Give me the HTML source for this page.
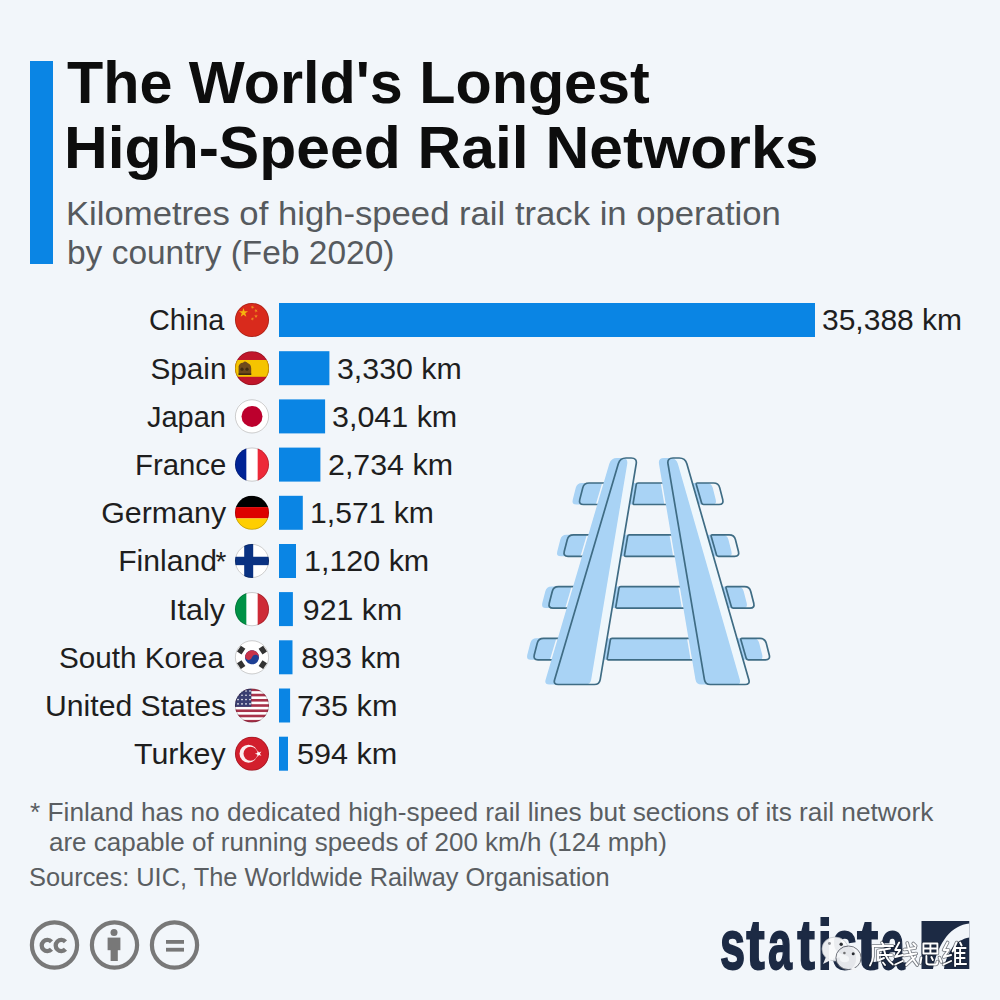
<!DOCTYPE html>
<html><head><meta charset="utf-8"><style>
html,body{margin:0;padding:0;background:#f2f6fa;}
svg{display:block}
text{font-family:"Liberation Sans",sans-serif;}
.t{font-weight:bold;font-size:60px;fill:#0d0d0d;}
.s{font-size:33px;fill:#565a5e;}
.l{font-size:30px;fill:#1e1e1e;}
.ast{font-size:28px;fill:#1e1e1e;}
.f{font-size:25px;fill:#5a5e62;}
.cc{font-weight:bold;font-size:21px;fill:#777;letter-spacing:-1px}
.st{font-weight:bold;font-size:70px;fill:#1c2a44;stroke:#1c2a44;stroke-width:1.8px}

</style></head><body>
<svg width="1000" height="1000" viewBox="0 0 1000 1000">
<rect x="30" y="61" width="23" height="203" fill="#0a85e4"/>
<text x="67.0" y="103.0" class="t" textLength="582.82" lengthAdjust="spacingAndGlyphs">The World's Longest</text>
<text x="64.0" y="168.0" class="t" textLength="754.38" lengthAdjust="spacingAndGlyphs">High-Speed Rail Networks</text>
<text x="66.0" y="225.0" class="s" textLength="714.79" lengthAdjust="spacingAndGlyphs">Kilometres of high-speed rail track in operation</text>
<text x="67.0" y="264.0" class="s" textLength="327.4" lengthAdjust="spacingAndGlyphs">by country (Feb 2020)</text>
<rect x="279" y="303.0" width="536.0" height="34" fill="#0a85e4"/>
<text x="149.0" y="330.4" class="l" textLength="75.34" lengthAdjust="spacingAndGlyphs">China</text>
<clipPath id="c_cn"><circle cx="252" cy="320.0" r="17"/></clipPath><g clip-path="url(#c_cn)"><rect x="235" y="303.0" width="34" height="34" fill="#d92a1c"/><path d="M243.50,308.00 L244.58,311.32 L248.07,311.32 L245.24,313.37 L246.32,316.68 L243.50,314.63 L240.68,316.68 L241.76,313.37 L238.93,311.32 L242.42,311.32Z" fill="#f6b40e"/><path d="M253.18,305.32 L253.13,306.77 L254.50,307.27 L253.10,307.67 L253.05,309.12 L252.24,307.92 L250.84,308.32 L251.74,307.17 L250.92,305.97 L252.29,306.47Z" fill="#f0a020" opacity="0.85"/><path d="M257.41,309.39 L256.75,310.68 L257.78,311.71 L256.35,311.48 L255.69,312.78 L255.46,311.34 L254.02,311.11 L255.32,310.45 L255.09,309.02 L256.12,310.05Z" fill="#f0a020" opacity="0.85"/><path d="M256.00,314.20 L256.45,315.58 L257.90,315.58 L256.73,316.44 L257.18,317.82 L256.00,316.96 L254.82,317.82 L255.27,316.44 L254.10,315.58 L255.55,315.58Z" fill="#f0a020" opacity="0.85"/><path d="M253.18,317.02 L253.13,318.47 L254.50,318.97 L253.10,319.37 L253.05,320.82 L252.24,319.62 L250.84,320.02 L251.74,318.87 L250.92,317.67 L252.29,318.17Z" fill="#f0a020" opacity="0.85"/></g><circle cx="252" cy="320.0" r="16.6" fill="none" stroke="rgba(0,0,0,0.22)" stroke-width="0.9"/>
<text x="822.0" y="330.4" class="l" textLength="140.09" lengthAdjust="spacingAndGlyphs">35,388 km</text>
<rect x="279" y="351.2" width="50.4" height="34" fill="#0a85e4"/>
<text x="150.4" y="378.6" class="l" textLength="76.12" lengthAdjust="spacingAndGlyphs">Spain</text>
<clipPath id="c_es"><circle cx="252" cy="368.19" r="17"/></clipPath><g clip-path="url(#c_es)"><rect x="235" y="351.19" width="34" height="34" fill="#c0162a"/><rect x="235" y="359.99" width="34" height="16.8" fill="#f5c400"/><path d="M238.6,374.79 L238.6,366.19 Q240,362.19 243,362.69 Q245,360.19 248,363.19 Q251,364.19 251.2,368.19 L251.2,374.79 Z" fill="#6e4a1c"/><rect x="238.6" y="373.39" width="12.6" height="1.6" fill="#3e2a10"/><circle cx="242" cy="369.19" r="1.6" fill="#3e2a10"/><circle cx="247" cy="369.19" r="1.6" fill="#3e2a10"/></g><circle cx="252" cy="368.19" r="16.6" fill="none" stroke="rgba(0,0,0,0.22)" stroke-width="0.9"/>
<text x="337.0" y="378.6" class="l" textLength="124.7" lengthAdjust="spacingAndGlyphs">3,330 km</text>
<rect x="279" y="399.4" width="46.1" height="34" fill="#0a85e4"/>
<text x="147.0" y="426.8" class="l" textLength="78.86" lengthAdjust="spacingAndGlyphs">Japan</text>
<clipPath id="c_jp"><circle cx="252" cy="416.38" r="17"/></clipPath><g clip-path="url(#c_jp)"><rect x="235" y="399.38" width="34" height="34" fill="#ffffff"/><circle cx="252" cy="416.38" r="10.5" fill="#bc002d"/></g><circle cx="252" cy="416.38" r="16.6" fill="none" stroke="rgba(0,0,0,0.22)" stroke-width="0.9"/>
<text x="332.0" y="426.8" class="l" textLength="125.21" lengthAdjust="spacingAndGlyphs">3,041 km</text>
<rect x="279" y="447.6" width="41.4" height="34" fill="#0a85e4"/>
<text x="135.0" y="475.0" class="l" textLength="91.3" lengthAdjust="spacingAndGlyphs">France</text>
<clipPath id="c_fr"><circle cx="252" cy="464.57" r="17"/></clipPath><g clip-path="url(#c_fr)"><rect x="235" y="447.57" width="34" height="34" fill="#ffffff"/><rect x="235" y="447.57" width="11.333333333333334" height="34" fill="#002395"/><rect x="257.6666666666667" y="447.57" width="11.333333333333334" height="34" fill="#ed2939"/></g><circle cx="252" cy="464.57" r="16.6" fill="none" stroke="rgba(0,0,0,0.22)" stroke-width="0.9"/>
<text x="328.0" y="475.0" class="l" textLength="124.95" lengthAdjust="spacingAndGlyphs">2,734 km</text>
<rect x="279" y="495.8" width="23.8" height="34" fill="#0a85e4"/>
<text x="101.2" y="523.2" class="l" textLength="124.99" lengthAdjust="spacingAndGlyphs">Germany</text>
<clipPath id="c_de"><circle cx="252" cy="512.76" r="17"/></clipPath><g clip-path="url(#c_de)"><rect x="235" y="495.76" width="34" height="11.333333333333334" fill="#000000"/><rect x="235" y="507.0933333333333" width="34" height="11.333333333333334" fill="#dd0000"/><rect x="235" y="518.4266666666666" width="34" height="11.333333333333334" fill="#ffce00"/></g><circle cx="252" cy="512.76" r="16.6" fill="none" stroke="rgba(0,0,0,0.22)" stroke-width="0.9"/>
<text x="310.0" y="523.2" class="l" textLength="123.93" lengthAdjust="spacingAndGlyphs">1,571 km</text>
<rect x="279" y="544.0" width="17.0" height="34" fill="#0a85e4"/>
<text x="118.2" y="571.4" class="l" textLength="98.93" lengthAdjust="spacingAndGlyphs">Finland</text>
<text x="215.6" y="571.4" class="ast">*</text>
<clipPath id="c_fi"><circle cx="252" cy="560.95" r="17"/></clipPath><g clip-path="url(#c_fi)"><rect x="235" y="543.95" width="34" height="34" fill="#ffffff"/><rect x="235" y="556.75" width="34" height="8.4" fill="#0a3282"/><rect x="244.2" y="543.95" width="9" height="34" fill="#0a3282"/></g><circle cx="252" cy="560.95" r="16.6" fill="none" stroke="rgba(0,0,0,0.22)" stroke-width="0.9"/>
<text x="304.0" y="571.4" class="l" textLength="125.22" lengthAdjust="spacingAndGlyphs">1,120 km</text>
<rect x="279" y="592.1" width="13.9" height="34" fill="#0a85e4"/>
<text x="169.0" y="619.5" class="l" textLength="56.09" lengthAdjust="spacingAndGlyphs">Italy</text>
<clipPath id="c_it"><circle cx="252" cy="609.14" r="17"/></clipPath><g clip-path="url(#c_it)"><rect x="235" y="592.14" width="34" height="34" fill="#ffffff"/><rect x="235" y="592.14" width="11.333333333333334" height="34" fill="#009246"/><rect x="257.6666666666667" y="592.14" width="11.333333333333334" height="34" fill="#ce2b37"/></g><circle cx="252" cy="609.14" r="16.6" fill="none" stroke="rgba(0,0,0,0.22)" stroke-width="0.9"/>
<text x="302.8" y="619.5" class="l" textLength="99.33" lengthAdjust="spacingAndGlyphs">921 km</text>
<rect x="279" y="640.3" width="13.5" height="34" fill="#0a85e4"/>
<text x="59.0" y="667.7" class="l" textLength="164.99" lengthAdjust="spacingAndGlyphs">South Korea</text>
<clipPath id="c_kr"><circle cx="252" cy="657.3299999999999" r="17"/></clipPath><g clip-path="url(#c_kr)"><rect x="235" y="640.3299999999999" width="34" height="34" fill="#ffffff"/><g transform="rotate(15 252 657.33)"><circle cx="252" cy="657.33" r="7" fill="#1d3f94"/><path d="M245,657.33 A7,7 0 0 1 259,657.33 A3.5,3.5 0 0 0 252,657.33 A3.5,3.5 0 0 1 245,657.33Z" fill="#c8334a"/></g><g transform="rotate(-146.3 252 657.33)"><rect x="262.3" y="653.83" width="5.4" height="7" fill="#333333"/></g><g transform="rotate(-33.7 252 657.33)"><rect x="262.3" y="653.83" width="5.4" height="7" fill="#333333"/></g><g transform="rotate(33.7 252 657.33)"><rect x="262.3" y="653.83" width="5.4" height="7" fill="#333333"/></g><g transform="rotate(146.3 252 657.33)"><rect x="262.3" y="653.83" width="5.4" height="7" fill="#333333"/></g></g><circle cx="252" cy="657.3299999999999" r="16.6" fill="none" stroke="rgba(0,0,0,0.22)" stroke-width="0.9"/>
<text x="301.2" y="667.7" class="l" textLength="99.74" lengthAdjust="spacingAndGlyphs">893 km</text>
<rect x="279" y="688.5" width="11.1" height="34" fill="#0a85e4"/>
<text x="45.0" y="715.9" class="l" textLength="181.13" lengthAdjust="spacingAndGlyphs">United States</text>
<clipPath id="c_us"><circle cx="252" cy="705.52" r="17"/></clipPath><g clip-path="url(#c_us)"><rect x="235" y="688.52" width="34" height="34" fill="#ffffff"/><rect x="235" y="688.52" width="34" height="2.62" fill="#a8324a"/><rect x="235" y="693.75" width="34" height="2.62" fill="#a8324a"/><rect x="235" y="698.98" width="34" height="2.62" fill="#a8324a"/><rect x="235" y="704.21" width="34" height="2.62" fill="#a8324a"/><rect x="235" y="709.44" width="34" height="2.62" fill="#a8324a"/><rect x="235" y="714.67" width="34" height="2.62" fill="#a8324a"/><rect x="235" y="719.90" width="34" height="2.62" fill="#a8324a"/><rect x="235" y="688.52" width="16.32" height="18.31" fill="#3a3f72"/><circle cx="238.0" cy="691.0" r="0.8" fill="#fff"/><circle cx="242.0" cy="691.0" r="0.8" fill="#fff"/><circle cx="246.0" cy="691.0" r="0.8" fill="#fff"/><circle cx="250.0" cy="691.0" r="0.8" fill="#fff"/><circle cx="238.0" cy="695.3" r="0.8" fill="#fff"/><circle cx="242.0" cy="695.3" r="0.8" fill="#fff"/><circle cx="246.0" cy="695.3" r="0.8" fill="#fff"/><circle cx="250.0" cy="695.3" r="0.8" fill="#fff"/><circle cx="238.0" cy="699.6" r="0.8" fill="#fff"/><circle cx="242.0" cy="699.6" r="0.8" fill="#fff"/><circle cx="246.0" cy="699.6" r="0.8" fill="#fff"/><circle cx="250.0" cy="699.6" r="0.8" fill="#fff"/><circle cx="238.0" cy="703.9" r="0.8" fill="#fff"/><circle cx="242.0" cy="703.9" r="0.8" fill="#fff"/><circle cx="246.0" cy="703.9" r="0.8" fill="#fff"/><circle cx="250.0" cy="703.9" r="0.8" fill="#fff"/></g><circle cx="252" cy="705.52" r="16.6" fill="none" stroke="rgba(0,0,0,0.22)" stroke-width="0.9"/>
<text x="297.0" y="715.9" class="l" textLength="100.45" lengthAdjust="spacingAndGlyphs">735 km</text>
<rect x="279" y="736.7" width="9.0" height="34" fill="#0a85e4"/>
<text x="134.0" y="764.1" class="l" textLength="91.61" lengthAdjust="spacingAndGlyphs">Turkey</text>
<clipPath id="c_tr"><circle cx="252" cy="753.71" r="17"/></clipPath><g clip-path="url(#c_tr)"><rect x="235" y="736.71" width="34" height="34" fill="#d21f2d"/><circle cx="248.5" cy="753.71" r="9" fill="#fbeff0"/><circle cx="250.5" cy="753.71" r="7" fill="#d21f2d"/><path d="M257.39,750.29 L258.92,752.40 L261.41,751.59 L259.88,753.71 L261.41,755.83 L258.92,755.02 L257.39,757.13 L257.39,754.52 L254.90,753.71 L257.39,752.90Z" fill="#fff"/></g><circle cx="252" cy="753.71" r="16.6" fill="none" stroke="rgba(0,0,0,0.22)" stroke-width="0.9"/>
<text x="297.0" y="764.1" class="l" textLength="100.24" lengthAdjust="spacingAndGlyphs">594 km</text>
<text x="30.0" y="820.5" class="f" textLength="903.28" lengthAdjust="spacingAndGlyphs">* Finland has no dedicated high-speed rail lines but sections of its rail network</text>
<text x="49.0" y="851.0" class="f" textLength="617.92" lengthAdjust="spacingAndGlyphs">are capable of running speeds of 200 km/h (124 mph)</text>
<text x="29.0" y="885.5" class="f" textLength="580.6" lengthAdjust="spacingAndGlyphs">Sources: UIC, The Worldwide Railway Organisation</text>
<circle cx="54.5" cy="945" r="22.6" fill="none" stroke="#787878" stroke-width="4.2"/>
<path d="M51.46,941.75 A5.6,5.6 0 1 0 51.46,949.25" fill="none" stroke="#787878" stroke-width="4.3"/>
<path d="M65.46,941.75 A5.6,5.6 0 1 0 65.46,949.25" fill="none" stroke="#787878" stroke-width="4.3"/>
<circle cx="114.5" cy="945" r="22.6" fill="none" stroke="#787878" stroke-width="4.2"/>
<circle cx="114" cy="932.5" r="3.5" fill="#787878"/><rect x="107.6" y="937.6" width="12.8" height="12.6" fill="#787878"/><rect x="110.6" y="949" width="7.2" height="12" fill="#787878"/>
<circle cx="174.5" cy="945" r="22.6" fill="none" stroke="#787878" stroke-width="4.2"/>
<rect x="166" y="940" width="18" height="3.8" fill="#787878"/><rect x="166" y="947.8" width="18" height="3.8" fill="#787878"/>
<text x="720" y="969" class="st" textLength="25.15" lengthAdjust="spacingAndGlyphs">s</text>
<text x="746.2" y="969" class="st" textLength="18.48" lengthAdjust="spacingAndGlyphs">t</text>
<text x="768" y="969" class="st" textLength="23.96" lengthAdjust="spacingAndGlyphs">a</text>
<text x="797.2" y="969" class="st" textLength="17.67" lengthAdjust="spacingAndGlyphs">t</text>
<text x="817.4" y="969" class="st" textLength="14.56" lengthAdjust="spacingAndGlyphs">i</text>
<text x="832" y="969" class="st" textLength="25.38" lengthAdjust="spacingAndGlyphs">s</text>
<text x="857" y="969" class="st" textLength="21.29" lengthAdjust="spacingAndGlyphs">t</text>
<text x="880.2" y="969" class="st" textLength="24.58" lengthAdjust="spacingAndGlyphs">a</text>
<rect x="921.5" y="921" width="47.8" height="48" fill="#1c2a44"/>
<path d="M969.3,923.6 C952,925 938,942 933,969 L944,969 C947,952 955,940 969.3,937.5 Z" fill="#f2f6fa"/>
<g opacity="0.93">
<ellipse cx="835" cy="949" rx="13" ry="12" fill="#fafbfc" stroke="#b8bcc2" stroke-width="0.7"/>
<path d="M826,957 L823,964 L831,960 Z" fill="#fafbfc"/>
<ellipse cx="848.5" cy="957.8" rx="12.6" ry="11.8" fill="#f4f5f7" stroke="#5a5e66" stroke-width="0.9"/>
<path d="M854,967 L858,972 L850,969 Z" fill="#f4f5f7"/>
<circle cx="829.5" cy="943.5" r="1.4" fill="#8a8d92"/><circle cx="841.2" cy="944.2" r="1.7" fill="#2a2d31"/>
<circle cx="844.4" cy="953" r="1.3" fill="#777"/><circle cx="853.2" cy="953.8" r="1.5" fill="#2a2d31"/>
</g>
<g transform="translate(870.0,942.5)"><path d="M12,0 L13.5,2.5 M2.5,3.5 L23,3.5 M3,3.5 L3,14 Q2.5,19 0,23 M8,8 L20,6 M8,8 L8,18 M8,12.5 L22,12.5 M8,18 L14,15.5 M14,7.5 Q16,17 23,22 M13,20 L15,22.5" fill="none" stroke="rgba(20,25,35,0.55)" stroke-width="3.6" stroke-linecap="round" stroke-linejoin="round"/><path d="M12,0 L13.5,2.5 M2.5,3.5 L23,3.5 M3,3.5 L3,14 Q2.5,19 0,23 M8,8 L20,6 M8,8 L8,18 M8,12.5 L22,12.5 M8,18 L14,15.5 M14,7.5 Q16,17 23,22 M13,20 L15,22.5" fill="none" stroke="#ffffff" stroke-width="1.9" stroke-linecap="round" stroke-linejoin="round"/></g>
<g transform="translate(894.2,942.5)"><path d="M5,0 L1,7.5 L6,7.5 L1,14.5 L8.5,12.5 M1,22 L8.5,18.5 M10,7 L21,5.5 M10,13 L22,11 M13,0.5 Q16,14 23,22.5 M21,14 L12,22.5 M19,1 L21.5,3.5" fill="none" stroke="rgba(20,25,35,0.55)" stroke-width="3.6" stroke-linecap="round" stroke-linejoin="round"/><path d="M5,0 L1,7.5 L6,7.5 L1,14.5 L8.5,12.5 M1,22 L8.5,18.5 M10,7 L21,5.5 M10,13 L22,11 M13,0.5 Q16,14 23,22.5 M21,14 L12,22.5 M19,1 L21.5,3.5" fill="none" stroke="#ffffff" stroke-width="1.9" stroke-linecap="round" stroke-linejoin="round"/></g>
<g transform="translate(918.4,942.5)"><path d="M5,1 L19,1 L19,11 L5,11 Z M12,1 L12,11 M5,6 L19,6 M3,15 L2,20.5 M8,13.5 L8,20 Q8,22 11,22 L17,22 Q19,22 19,19 M13,14.5 L14.5,17.5 M21,15 L23,19.5" fill="none" stroke="rgba(20,25,35,0.55)" stroke-width="3.6" stroke-linecap="round" stroke-linejoin="round"/><path d="M5,1 L19,1 L19,11 L5,11 Z M12,1 L12,11 M5,6 L19,6 M3,15 L2,20.5 M8,13.5 L8,20 Q8,22 11,22 L17,22 Q19,22 19,19 M13,14.5 L14.5,17.5 M21,15 L23,19.5" fill="none" stroke="#ffffff" stroke-width="1.9" stroke-linecap="round" stroke-linejoin="round"/></g>
<g transform="translate(942.6,942.5)"><path d="M5,0 L1,7.5 L6,7.5 L1,14.5 L8.5,12.5 M1,22 L8.5,18.5 M14,0 L10,9 M12.5,6 L12.5,23.5 M17.5,0 L19,3 M12.5,5.5 L23,5.5 M14,10.5 L22,10.5 M14,15.5 L22,15.5 M12.5,21.5 L23.5,21.5 M17.5,5.5 L17.5,21.5" fill="none" stroke="rgba(20,25,35,0.55)" stroke-width="3.6" stroke-linecap="round" stroke-linejoin="round"/><path d="M5,0 L1,7.5 L6,7.5 L1,14.5 L8.5,12.5 M1,22 L8.5,18.5 M14,0 L10,9 M12.5,6 L12.5,23.5 M17.5,0 L19,3 M12.5,5.5 L23,5.5 M14,10.5 L22,10.5 M14,15.5 L22,15.5 M12.5,21.5 L23.5,21.5 M17.5,5.5 L17.5,21.5" fill="none" stroke="#ffffff" stroke-width="1.9" stroke-linecap="round" stroke-linejoin="round"/></g>
<g id="rail">
<filter id="soft" x="-10%" y="-10%" width="120%" height="120%"><feGaussianBlur stdDeviation="0.6"/></filter>
<path d="M582.76,487.84 Q584.00,483.00 589.00,483.00 L607.62,483.00 Q609.12,483.00 608.70,484.44 L603.21,503.06 Q602.78,504.50 601.28,504.50 L583.50,504.50 Q578.50,504.50 579.74,499.66 Z" fill="#a9d3f5" transform="translate(-7,0)" filter="url(#soft)"/>
<path d="M636.28,484.48 Q636.53,483.00 638.03,483.00 L666.23,483.00 Q667.73,483.00 667.97,484.48 L671.11,503.02 Q671.36,504.50 669.86,504.50 L634.43,504.50 Q632.93,504.50 633.18,503.02 Z" fill="#a9d3f5" transform="translate(-7,0)" filter="url(#soft)"/>
<path d="M696.29,484.44 Q695.88,483.00 697.38,483.00 L713.50,483.00 Q718.50,483.00 719.74,487.84 L722.76,499.66 Q724.00,504.50 719.00,504.50 L703.55,504.50 Q702.05,504.50 701.63,503.06 Z" fill="#a9d3f5" transform="translate(-7,0)" filter="url(#soft)"/>
<path d="M567.26,539.64 Q568.50,534.80 573.50,534.80 L592.34,534.80 Q593.84,534.80 593.42,536.24 L587.93,554.86 Q587.50,556.30 586.00,556.30 L568.00,556.30 Q563.00,556.30 564.24,551.46 Z" fill="#a9d3f5" transform="translate(-7,0)" filter="url(#soft)"/>
<path d="M627.63,536.28 Q627.87,534.80 629.37,534.80 L674.98,534.80 Q676.48,534.80 676.73,536.28 L679.86,554.82 Q680.11,556.30 678.61,556.30 L625.78,556.30 Q624.28,556.30 624.53,554.82 Z" fill="#a9d3f5" transform="translate(-7,0)" filter="url(#soft)"/>
<path d="M711.16,536.24 Q710.74,534.80 712.24,534.80 L729.20,534.80 Q734.20,534.80 735.44,539.64 L738.46,551.46 Q739.70,556.30 734.70,556.30 L718.41,556.30 Q716.91,556.30 716.50,554.86 Z" fill="#a9d3f5" transform="translate(-7,0)" filter="url(#soft)"/>
<path d="M552.26,591.44 Q553.50,586.60 558.50,586.60 L577.06,586.60 Q578.56,586.60 578.14,588.04 L572.64,606.66 Q572.22,608.10 570.72,608.10 L553.00,608.10 Q548.00,608.10 549.24,603.26 Z" fill="#a9d3f5" transform="translate(-7,0)" filter="url(#soft)"/>
<path d="M618.98,588.08 Q619.22,586.60 620.72,586.60 L683.73,586.60 Q685.23,586.60 685.48,588.08 L688.62,606.62 Q688.87,608.10 687.37,608.10 L617.13,608.10 Q615.63,608.10 615.88,606.62 Z" fill="#a9d3f5" transform="translate(-7,0)" filter="url(#soft)"/>
<path d="M726.02,588.04 Q725.61,586.60 727.11,586.60 L744.50,586.60 Q749.50,586.60 750.74,591.44 L753.76,603.26 Q755.00,608.10 750.00,608.10 L733.28,608.10 Q731.78,608.10 731.36,606.66 Z" fill="#a9d3f5" transform="translate(-7,0)" filter="url(#soft)"/>
<path d="M537.26,643.14 Q538.50,638.30 543.50,638.30 L561.81,638.30 Q563.31,638.30 562.89,639.74 L557.39,658.36 Q556.97,659.80 555.47,659.80 L538.00,659.80 Q533.00,659.80 534.24,654.96 Z" fill="#a9d3f5" transform="translate(-7,0)" filter="url(#soft)"/>
<path d="M610.34,639.78 Q610.59,638.30 612.09,638.30 L692.47,638.30 Q693.97,638.30 694.22,639.78 L697.35,658.32 Q697.60,659.80 696.10,659.80 L608.50,659.80 Q607.00,659.80 607.25,658.32 Z" fill="#a9d3f5" transform="translate(-7,0)" filter="url(#soft)"/>
<path d="M740.86,639.74 Q740.45,638.30 741.95,638.30 L760.00,638.30 Q765.00,638.30 766.24,643.14 L769.26,654.96 Q770.50,659.80 765.50,659.80 L748.12,659.80 Q746.62,659.80 746.20,658.36 Z" fill="#a9d3f5" transform="translate(-7,0)" filter="url(#soft)"/>
<path d="M582.76,487.84 Q584.00,483.00 589.00,483.00 L607.62,483.00 Q609.12,483.00 608.70,484.44 L603.21,503.06 Q602.78,504.50 601.28,504.50 L583.50,504.50 Q578.50,504.50 579.74,499.66 Z" fill="none" stroke="#3f6c84" stroke-width="1.7"/>
<path d="M636.28,484.48 Q636.53,483.00 638.03,483.00 L666.23,483.00 Q667.73,483.00 667.97,484.48 L671.11,503.02 Q671.36,504.50 669.86,504.50 L634.43,504.50 Q632.93,504.50 633.18,503.02 Z" fill="none" stroke="#3f6c84" stroke-width="1.7"/>
<path d="M696.29,484.44 Q695.88,483.00 697.38,483.00 L713.50,483.00 Q718.50,483.00 719.74,487.84 L722.76,499.66 Q724.00,504.50 719.00,504.50 L703.55,504.50 Q702.05,504.50 701.63,503.06 Z" fill="none" stroke="#3f6c84" stroke-width="1.7"/>
<path d="M567.26,539.64 Q568.50,534.80 573.50,534.80 L592.34,534.80 Q593.84,534.80 593.42,536.24 L587.93,554.86 Q587.50,556.30 586.00,556.30 L568.00,556.30 Q563.00,556.30 564.24,551.46 Z" fill="none" stroke="#3f6c84" stroke-width="1.7"/>
<path d="M627.63,536.28 Q627.87,534.80 629.37,534.80 L674.98,534.80 Q676.48,534.80 676.73,536.28 L679.86,554.82 Q680.11,556.30 678.61,556.30 L625.78,556.30 Q624.28,556.30 624.53,554.82 Z" fill="none" stroke="#3f6c84" stroke-width="1.7"/>
<path d="M711.16,536.24 Q710.74,534.80 712.24,534.80 L729.20,534.80 Q734.20,534.80 735.44,539.64 L738.46,551.46 Q739.70,556.30 734.70,556.30 L718.41,556.30 Q716.91,556.30 716.50,554.86 Z" fill="none" stroke="#3f6c84" stroke-width="1.7"/>
<path d="M552.26,591.44 Q553.50,586.60 558.50,586.60 L577.06,586.60 Q578.56,586.60 578.14,588.04 L572.64,606.66 Q572.22,608.10 570.72,608.10 L553.00,608.10 Q548.00,608.10 549.24,603.26 Z" fill="none" stroke="#3f6c84" stroke-width="1.7"/>
<path d="M618.98,588.08 Q619.22,586.60 620.72,586.60 L683.73,586.60 Q685.23,586.60 685.48,588.08 L688.62,606.62 Q688.87,608.10 687.37,608.10 L617.13,608.10 Q615.63,608.10 615.88,606.62 Z" fill="none" stroke="#3f6c84" stroke-width="1.7"/>
<path d="M726.02,588.04 Q725.61,586.60 727.11,586.60 L744.50,586.60 Q749.50,586.60 750.74,591.44 L753.76,603.26 Q755.00,608.10 750.00,608.10 L733.28,608.10 Q731.78,608.10 731.36,606.66 Z" fill="none" stroke="#3f6c84" stroke-width="1.7"/>
<path d="M537.26,643.14 Q538.50,638.30 543.50,638.30 L561.81,638.30 Q563.31,638.30 562.89,639.74 L557.39,658.36 Q556.97,659.80 555.47,659.80 L538.00,659.80 Q533.00,659.80 534.24,654.96 Z" fill="none" stroke="#3f6c84" stroke-width="1.7"/>
<path d="M610.34,639.78 Q610.59,638.30 612.09,638.30 L692.47,638.30 Q693.97,638.30 694.22,639.78 L697.35,658.32 Q697.60,659.80 696.10,659.80 L608.50,659.80 Q607.00,659.80 607.25,658.32 Z" fill="none" stroke="#3f6c84" stroke-width="1.7"/>
<path d="M740.86,639.74 Q740.45,638.30 741.95,638.30 L760.00,638.30 Q765.00,638.30 766.24,643.14 L769.26,654.96 Q770.50,659.80 765.50,659.80 L748.12,659.80 Q746.62,659.80 746.20,658.36 Z" fill="none" stroke="#3f6c84" stroke-width="1.7"/>
<path d="M618.30,463.75 Q620.00,458.00 626.00,458.00 L631.20,458.00 Q637.20,458.00 636.21,463.92 L600.20,679.57 Q599.37,684.50 594.37,684.50 L558.18,684.50 Q553.18,684.50 554.60,679.70 Z" fill="#eef7fc"/>
<path d="M618.30,463.75 Q620.00,458.00 626.00,458.00 L631.20,458.00 Q637.20,458.00 636.21,463.92 L600.20,679.57 Q599.37,684.50 594.37,684.50 L558.18,684.50 Q553.18,684.50 554.60,679.70 Z" fill="#a9d3f5" transform="translate(-9,0)" filter="url(#soft)"/>
<path d="M618.30,463.75 Q620.00,458.00 626.00,458.00 L631.20,458.00 Q637.20,458.00 636.21,463.92 L600.20,679.57 Q599.37,684.50 594.37,684.50 L558.18,684.50 Q553.18,684.50 554.60,679.70 Z" fill="none" stroke="#3f6c84" stroke-width="1.7"/>
<path d="M668.00,463.92 Q667.00,458.00 673.00,458.00 L679.20,458.00 Q685.20,458.00 686.86,463.77 L748.83,679.69 Q750.21,684.50 745.21,684.50 L710.28,684.50 Q705.28,684.50 704.45,679.57 Z" fill="#eef7fc"/>
<path d="M668.00,463.92 Q667.00,458.00 673.00,458.00 L679.20,458.00 Q685.20,458.00 686.86,463.77 L748.83,679.69 Q750.21,684.50 745.21,684.50 L710.28,684.50 Q705.28,684.50 704.45,679.57 Z" fill="#a9d3f5" transform="translate(-9,0)" filter="url(#soft)"/>
<path d="M668.00,463.92 Q667.00,458.00 673.00,458.00 L679.20,458.00 Q685.20,458.00 686.86,463.77 L748.83,679.69 Q750.21,684.50 745.21,684.50 L710.28,684.50 Q705.28,684.50 704.45,679.57 Z" fill="none" stroke="#3f6c84" stroke-width="1.7"/>
</g>
</svg>
</body></html>
